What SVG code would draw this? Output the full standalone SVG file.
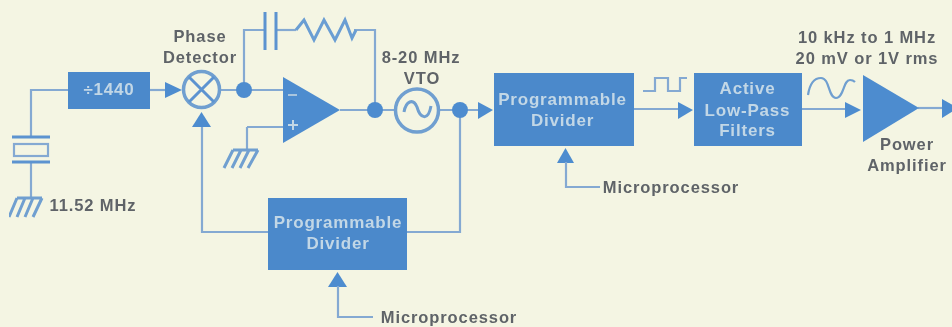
<svg xmlns="http://www.w3.org/2000/svg" width="952" height="327" viewBox="0 0 952 327">
<defs><filter id="soft" x="0" y="0" width="100%" height="100%"><feGaussianBlur stdDeviation="0.6"/></filter></defs>
<style>
.w{fill:none;stroke:#84a9d2;stroke-width:2.2}
.b{fill:none;stroke:#5b93d0;stroke-width:3}
.g{fill:none;stroke:#6f9fd0;stroke-width:3}
.f{fill:#4e8ccf}
.box{fill:#4c89cb}
.l{font-family:"Liberation Sans",Arial,sans-serif;font-weight:700;fill:#5f6468;font-size:16.5px;letter-spacing:.9px;text-anchor:middle}
.t{font-family:"Liberation Sans",Arial,sans-serif;font-weight:700;fill:#c2d7e6;font-size:17px;letter-spacing:.8px;text-anchor:middle}
</style>
<rect width="952" height="327" fill="#f4f5e3"/>
<g filter="url(#soft)">
<g id="connectors">
<path class="w" d="M31 137V90H68"/>
<path class="w" d="M31 162V198"/>
<path class="w" d="M150 90H166"/>
<polygon class="f" points="165,82 182,90 165,98"/>
<path class="w" d="M220 90H283"/>
<path class="w" d="M244 90V30H265"/>
<path class="w" d="M276 30H296"/>
<path class="w" d="M354 30H375V110"/>
<path class="w" d="M340 110H396"/>
<path class="w" d="M247 127H283"/>
<path class="w" d="M247 127V150"/>
<path class="w" d="M438 110H479"/>
<polygon class="f" points="478,102 493,110 478,119"/>
<path class="w" d="M460 110V232H407"/>
<path class="w" d="M268 232H202V126"/>
<polygon class="f" points="201.500,112 211,127 192,127"/>
<polygon class="f" points="337.500,272 347,287 328,287"/>
<path class="w" d="M338 286V317H373"/>
<path class="w" d="M634 109H679"/>
<polygon class="f" points="678,102 693,110 678,119"/>
<path class="w" d="M802 109H846"/>
<polygon class="f" points="845,102 861,110 845,118"/>
<path class="w" d="M918 108H943"/>
<polygon class="f" points="942,99 958,108 942,118"/>
<polygon class="f" points="565.500,148 574,163 557,163"/>
<path class="w" d="M566 162V187H600"/>
<path class="w" d="M643 91H655V78H668V91H680V78H687"/>
<path d="M808 95C810 82 815 78 821 78C830 78 828 98 836 98C844 98 843 80 850 80C852 80 854 81 855 82" fill="none" stroke="#6f9fd0" stroke-width="2.200"/>
</g>
<g id="crystal">
<path class="b" d="M12 137H50M12 162H50"/>
<rect x="14" y="144" width="34" height="12" fill="none" stroke="#84a9d2" stroke-width="2.200"/>
</g>
<g id="ground1">
<path class="g" d="M17 198H42M17 198L9 217M25 198L17 217M33 198L25 217M42 198L33 217"/>
<text class="l" x="93" y="211">11.52 MHz</text>
</g>
<g id="divider1440">
<rect class="box" x="68" y="72" width="82" height="37"/>
<text class="t" x="109" y="95">÷1440</text>
</g>
<g id="phase-detector">
<circle cx="201.500" cy="89.500" r="18" fill="none" stroke="#6f9fd0" stroke-width="3.500"/>
<path class="b" d="M189 77L214 102M214 77L189 102"/>
<text class="l" x="200" y="42">Phase</text>
<text class="l" x="200" y="63">Detector</text>
</g>
<g id="junction1"><circle class="f" cx="244" cy="90" r="8"/></g>
<g id="capacitor"><path class="b" d="M265 12V50M276 12V50"/></g>
<g id="resistor"><path d="M296 30L304 20L314 40L324 20L335 40L345 20L352 38L356 30" fill="none" stroke="#6b9ed3" stroke-width="3"/></g>
<g id="opamp">
<polygon class="f" points="283,77 340,110 283,143"/>
<path d="M288 95H297" stroke="#a9c5de" stroke-width="2"/>
<path d="M288 125H298M293 120V130" stroke="#c2d7e6" stroke-width="2"/>
</g>
<g id="ground2">
<path class="g" d="M233 150H258M233 150L224 168M241 150L232 168M249 150L240 168M258 150L248 168"/>
</g>
<g id="junction2"><circle class="f" cx="375" cy="110" r="8"/></g>
<g id="vto">
<circle cx="417" cy="110.500" r="21.500" fill="none" stroke="#6f9fd0" stroke-width="3.500"/>
<path d="M404 112C406 101 413 98 417 107C420 118 428 122 431 106" fill="none" stroke="#6f9fd0" stroke-width="3"/>
<text class="l" x="421" y="63">8-20 MHz</text>
<text class="l" x="422" y="84">VTO</text>
</g>
<g id="junction3"><circle class="f" cx="460" cy="110" r="8"/></g>
<g id="programmable-divider-main">
<rect class="box" x="494" y="73" width="140" height="73"/>
<text class="t" x="562.500" y="105">Programmable</text>
<text class="t" x="562.500" y="126">Divider</text>
</g>
<g id="programmable-divider-feedback">
<rect class="box" x="268" y="198" width="139" height="72"/>
<text class="t" x="338" y="228">Programmable</text>
<text class="t" x="338" y="249">Divider</text>
</g>
<g id="low-pass-filters">
<rect class="box" x="694" y="73" width="108" height="73"/>
<text class="t" x="747.500" y="94">Active</text>
<text class="t" x="747.500" y="116">Low-Pass</text>
<text class="t" x="747.500" y="136">Filters</text>
</g>
<g id="power-amplifier">
<polygon class="f" points="863,75 919,108 863,142"/>
<text class="l" x="907" y="150">Power</text>
<text class="l" x="907" y="171">Amplifier</text>
<text class="l" x="867" y="43">10 kHz to 1 MHz</text>
<text class="l" x="867" y="64">20 mV or 1V rms</text>
</g>
<g id="microprocessor-labels">
<text class="l" x="449" y="323">Microprocessor</text>
<text class="l" x="671" y="193">Microprocessor</text>
</g>
</g>
</svg>
